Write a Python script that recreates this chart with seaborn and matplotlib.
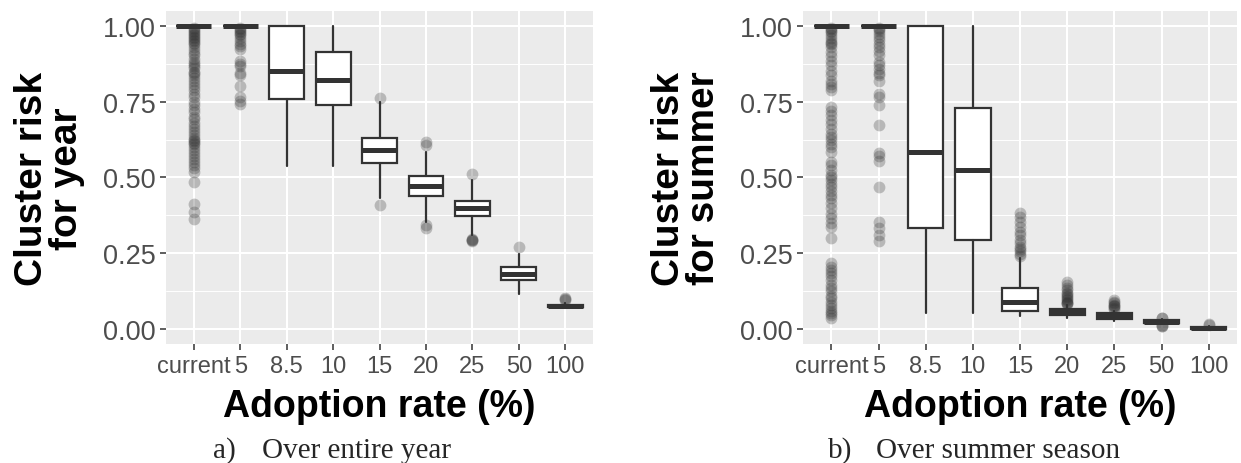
import numpy as np
import pandas as pd
import matplotlib
matplotlib.use("Agg")
import matplotlib.pyplot as plt
import seaborn as sns

# Categories on the x axis
rates = ["current", "5", "8.5", "10", "15", "20", "25", "50", "100"]

# Panel a) box statistics
year_lo = [1.0, 1.0, 0.538, 0.538, 0.431, 0.354, 0.310, 0.115, 0.068]
year_q1 = [1.0, 1.0, 0.758, 0.738, 0.549, 0.440, 0.373, 0.160, 0.071]
year_med = [1.0, 1.0, 0.853, 0.822, 0.592, 0.473, 0.398, 0.182, 0.075]
year_q3 = [1.0, 1.0, 1.0, 0.913, 0.632, 0.504, 0.423, 0.203, 0.078]
year_hi = [1.0, 1.0, 1.0, 1.0, 0.749, 0.585, 0.491, 0.247, 0.085]

# Panel a) outliers per category
year_out_current = [0.995, 0.99, 0.985, 0.98, 0.975, 0.97, 0.965, 0.96, 0.955, 0.95, 0.945,
                    0.94, 0.93, 0.92, 0.91, 0.905, 0.89, 0.88, 0.875, 0.869, 0.86, 0.85,
                    0.845, 0.837, 0.83, 0.82, 0.81, 0.80, 0.79, 0.775, 0.765, 0.75, 0.74,
                    0.727, 0.715, 0.70, 0.694, 0.68, 0.67, 0.661, 0.65, 0.64, 0.63, 0.623,
                    0.62, 0.615, 0.61, 0.60, 0.59, 0.58, 0.57, 0.56, 0.552, 0.54, 0.53,
                    0.519, 0.486, 0.414, 0.387, 0.363]
year_out_5 = [0.995, 0.99, 0.985, 0.98, 0.975, 0.97, 0.96, 0.95, 0.94, 0.935, 0.925,
              0.886, 0.875, 0.869, 0.845, 0.84, 0.801, 0.765, 0.754, 0.743]
year_out_15 = [0.764, 0.409]
year_out_20 = [0.617, 0.606, 0.343, 0.332]
year_out_25 = [0.511, 0.297, 0.295, 0.293, 0.291]
year_out_50 = [0.269]
year_out_100 = [0.102, 0.099, 0.096]

# Panel b) box statistics
summer_lo = [1.0, 1.0, 0.053, 0.053, 0.043, 0.035, 0.027, 0.015, 0.0]
summer_q1 = [1.0, 1.0, 0.334, 0.294, 0.058, 0.046, 0.033, 0.019, 0.0]
summer_med = [1.0, 1.0, 0.585, 0.524, 0.090, 0.056, 0.042, 0.023, 0.002]
summer_q3 = [1.0, 1.0, 1.0, 0.730, 0.135, 0.066, 0.051, 0.028, 0.005]
summer_hi = [1.0, 1.0, 1.0, 1.0, 0.234, 0.078, 0.060, 0.032, 0.008]

# Panel b) outliers per category
summer_out_current = [0.995, 0.99, 0.985, 0.98, 0.97, 0.96, 0.952, 0.945, 0.94, 0.93, 0.913,
                      0.90, 0.886, 0.87, 0.853, 0.84, 0.82, 0.81, 0.798, 0.79, 0.733, 0.72,
                      0.705, 0.69, 0.678, 0.66, 0.645, 0.635, 0.623, 0.61, 0.601, 0.585,
                      0.55, 0.54, 0.525, 0.508, 0.50, 0.491, 0.48, 0.469, 0.455, 0.442,
                      0.431, 0.415, 0.398, 0.38, 0.365, 0.35, 0.338, 0.299, 0.217, 0.205,
                      0.195, 0.185, 0.173, 0.16, 0.146, 0.135, 0.124, 0.11, 0.102, 0.09,
                      0.08, 0.07, 0.06, 0.053, 0.045, 0.036]
summer_out_5 = [0.995, 0.99, 0.985, 0.975, 0.963, 0.955, 0.941, 0.93, 0.919, 0.905, 0.881,
                0.87, 0.859, 0.845, 0.837, 0.82, 0.776, 0.765, 0.74, 0.674, 0.582, 0.57,
                0.554, 0.469, 0.354, 0.332, 0.31, 0.29]
summer_out_15 = [0.382, 0.37, 0.352, 0.335, 0.321, 0.31, 0.294, 0.285, 0.272, 0.265,
                 0.256, 0.248, 0.24]
summer_out_20 = [0.155, 0.145, 0.135, 0.128, 0.12, 0.115, 0.11, 0.105, 0.10, 0.095,
                 0.09, 0.087, 0.085, 0.082]
summer_out_25 = [0.095, 0.09, 0.085, 0.08, 0.077, 0.074, 0.07, 0.066]
summer_out_50 = [0.037, 0.035, 0.012, 0.010, 0.008]
summer_out_100 = [0.015, 0.012]

year_outliers = {"current": year_out_current, "5": year_out_5, "15": year_out_15,
                 "20": year_out_20, "25": year_out_25, "50": year_out_50, "100": year_out_100}
summer_outliers = {"current": summer_out_current, "5": summer_out_5, "15": summer_out_15,
                   "20": summer_out_20, "25": summer_out_25, "50": summer_out_50,
                   "100": summer_out_100}

sns.set_theme(style="darkgrid")
plt.rcParams["font.family"] = ["Liberation Sans", "DejaVu Sans"]

DARK = "#333333"


def draw_panel(ax, lo, q1, med, q3, hi, outliers, ylabel):
    stats = []
    for i in range(len(rates)):
        stats.append({"whislo": lo[i], "q1": q1[i], "med": med[i], "q3": q3[i],
                      "whishi": hi[i], "fliers": []})
    # outliers drawn with seaborn on the same categorical positions
    out_df = pd.DataFrame([(k, v) for k, vals in outliers.items() for v in vals],
                          columns=["rate", "risk"])
    sns.stripplot(data=out_df, x="rate", y="risk", order=rates, jitter=False,
                  color=DARK, alpha=0.28, size=8.5, linewidth=0, ax=ax, zorder=3)
    ax.bxp(stats, positions=np.arange(len(rates)), widths=0.75, showfliers=False,
           showcaps=False, patch_artist=True,
           boxprops=dict(facecolor="white", edgecolor=DARK, linewidth=1.6),
           medianprops=dict(color=DARK, linewidth=3.6, solid_capstyle="butt"),
           whiskerprops=dict(color=DARK, linewidth=1.6), manage_ticks=False)

    ax.set_facecolor("#EBEBEB")
    ax.set_xlim(-0.6, len(rates) - 0.4)
    ax.set_ylim(-0.05, 1.05)
    ax.set_xticks(np.arange(len(rates)))
    ax.set_xticklabels(rates)
    ax.set_yticks([0, 0.25, 0.5, 0.75, 1.0])
    ax.set_yticklabels(["0.00", "0.25", "0.50", "0.75", "1.00"])
    ax.set_yticks([0.125, 0.375, 0.625, 0.875], minor=True)
    ax.grid(True, which="major", color="white", linewidth=1.5)
    ax.grid(True, which="minor", axis="y", color="white", linewidth=0.7)
    ax.set_axisbelow(True)
    for s in ax.spines.values():
        s.set_visible(False)
    ax.tick_params(axis="x", which="major", length=4.5, width=1.1, color=DARK,
                   labelsize=17, labelcolor="#4D4D4D", pad=3.5, bottom=True)
    ax.tick_params(axis="y", which="major", length=4.5, width=1.1, color=DARK,
                   labelsize=19.5, labelcolor="#4D4D4D", pad=3, left=True)
    ax.tick_params(axis="y", which="minor", length=0)
    ax.set_xlabel("Adoption rate (%)", fontsize=27, fontweight="bold", color="black",
                  labelpad=8)
    ax.set_ylabel(ylabel, fontsize=28, fontweight="bold", color="black", labelpad=13,
                  linespacing=0.95)


fig = plt.figure(figsize=(12.41, 4.64), dpi=100)
ax1 = fig.add_axes([0.1338, 0.2565, 0.3441, 0.7177])
ax2 = fig.add_axes([0.6471, 0.2565, 0.3497, 0.7177])

draw_panel(ax1, year_lo, year_q1, year_med, year_q3, year_hi, year_outliers,
           "Cluster risk\nfor year")
draw_panel(ax2, summer_lo, summer_q1, summer_med, summer_q3, summer_hi, summer_outliers,
           "Cluster risk\nfor summer")

serif = ["Liberation Serif", "DejaVu Serif"]
fig.text(213 / 1241, 1 - 458 / 464, "a)", fontsize=21, family=serif, ha="left",
         va="baseline")
fig.text(262 / 1241, 1 - 458 / 464, "Over entire year", fontsize=21, family=serif,
         ha="left", va="baseline")
fig.text(828 / 1241, 1 - 458 / 464, "b)", fontsize=21, family=serif, ha="left",
         va="baseline")
fig.text(876 / 1241, 1 - 458 / 464, "Over summer season", fontsize=21, family=serif,
         ha="left", va="baseline")

fig.savefig("out.png", dpi=100, facecolor="white")
